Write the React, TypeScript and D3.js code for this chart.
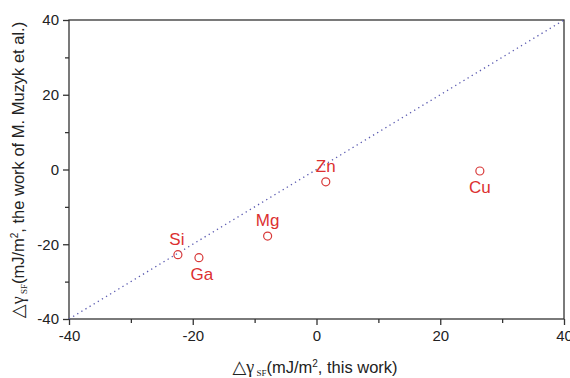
import React, { useRef, useEffect } from "react";
import * as d3 from "d3";

const elements = ["Si", "Ga", "Mg", "Zn", "Cu"];
const thisWork = [-22.4, -19.0, -7.9, 1.5, 26.4];
const muzykWork = [-22.8, -23.6, -17.8, -3.3, -0.4];
const labelPos = ["above", "below", "above", "above", "below"];
const majorTicks = [-40, -20, 0, 20, 40];
const minorTicks = [-30, -10, 10, 30];

export default function App() {
  const svgRef = useRef<SVGSVGElement>(null);

  useEffect(() => {
    const svg = d3.select(svgRef.current);
    svg.selectAll("*").remove();
    const W = 570, H = 378;
    const m = { left: 69, right: 6, top: 20, bottom: 59 };
    const x = d3.scaleLinear().domain([-40, 40]).range([m.left, W - m.right]);
    const y = d3.scaleLinear().domain([-40, 40]).range([H - m.bottom, m.top]);
    const font = "Liberation Sans, Arial, sans-serif";
    const axCol = "#333";
    const fmt = (d: any) => String(d);

    // frame
    svg.append("rect")
      .attr("x", x(-40)).attr("y", y(40))
      .attr("width", x(40) - x(-40)).attr("height", y(-40) - y(40))
      .attr("fill", "none").attr("stroke", axCol).attr("stroke-width", 1.3);

    // diagonal y = x
    svg.append("line")
      .attr("x1", x(-40)).attr("y1", y(-40)).attr("x2", x(40)).attr("y2", y(40))
      .attr("stroke", "#5a5ab0").attr("stroke-width", 1.3)
      .attr("stroke-dasharray", "1.3,3.5");

    const xAxis = svg.append("g").attr("transform", `translate(0,${y(-40)})`)
      .call(d3.axisBottom(x).tickValues(majorTicks).tickSize(6).tickPadding(5).tickFormat(fmt));
    xAxis.append("g").call(d3.axisBottom(x).tickValues(minorTicks).tickSize(4).tickFormat(() => ""));
    const yAxis = svg.append("g").attr("transform", `translate(${x(-40)},0)`)
      .call(d3.axisLeft(y).tickValues(majorTicks).tickSize(6).tickPadding(4).tickFormat(fmt));
    yAxis.append("g").call(d3.axisLeft(y).tickValues(minorTicks).tickSize(4).tickFormat(() => ""));
    svg.selectAll(".domain").remove();
    svg.selectAll(".tick line").attr("stroke", axCol).attr("stroke-width", 1.3);
    svg.selectAll(".tick text").attr("font-family", font).attr("font-size", 15).attr("fill", "#222");

    // points
    const pts = elements.map((e, i) => ({ e, x: thisWork[i], y: muzykWork[i], p: labelPos[i] }));
    svg.selectAll(".pt").data(pts).join("circle").attr("class", "pt")
      .attr("cx", d => x(d.x)).attr("cy", d => y(d.y)).attr("r", 4)
      .attr("fill", "none").attr("stroke", "#d83a3a").attr("stroke-width", 1.2);
    svg.selectAll(".lab").data(pts).join("text").attr("class", "lab")
      .attr("x", d => x(d.x) + (d.e === "Ga" ? 3 : d.e === "Si" ? -1 : 0))
      .attr("y", d => y(d.y) + (d.p === "above" ? -10 : 22))
      .attr("text-anchor", "middle").attr("font-family", font).attr("font-size", 17)
      .attr("fill", "#dc3030").text(d => d.e);

    // axis titles
    const title = (t: any, rest: string) => {
      t.append("tspan").attr("font-family", "DejaVu Sans, sans-serif").attr("font-size", 18).text("△");
      t.append("tspan").attr("font-family", "Liberation Serif, serif").attr("font-size", 18).text("γ");
      t.append("tspan").attr("font-family", "Liberation Serif, serif").attr("font-size", 9).attr("dy", 3).text(" SF");
      t.append("tspan").attr("dy", -3).text("(mJ/m");
      t.append("tspan").attr("font-size", 10).attr("dy", -6).text("2");
      t.append("tspan").attr("dy", 6).text(rest);
    };
    const xt = svg.append("text").attr("x", 315).attr("y", 373).attr("text-anchor", "middle")
      .attr("font-family", font).attr("font-size", 16.5).attr("fill", "#222");
    title(xt, ", this work)");

    const yt = svg.append("text").attr("transform", `translate(24,${170}) rotate(-90)`)
      .attr("text-anchor", "middle")
      .attr("font-family", font).attr("font-size", 16.5).attr("fill", "#222");
    title(yt, ", the work of M. Muzyk et al.)");
  }, []);

  return (
    <svg ref={svgRef} width={570} height={378}
      style={{ position: "absolute", left: 0, top: 0, background: "#fff" }} />
  );
}
